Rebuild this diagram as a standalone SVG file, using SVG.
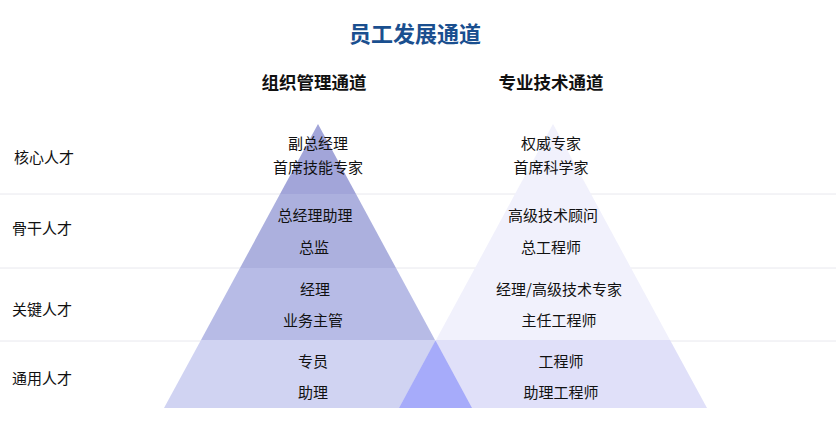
<svg xmlns="http://www.w3.org/2000/svg" width="836" height="422" viewBox="0 0 836 422">
<style>
text{font-family:"Noto Sans CJK SC","Noto Sans",sans-serif;fill:#111;}
.t{font-size:22px;font-weight:bold;fill:#1a4f8f;text-anchor:middle;}
.s{font-size:17.5px;font-weight:bold;text-anchor:middle;}
.b{font-size:15px;text-anchor:middle;dominant-baseline:central;}
.l{font-size:15px;dominant-baseline:central;}
.grid{stroke:#e8e8ee;stroke-width:1;}
</style>
<rect width="836" height="422" fill="#ffffff"/>
<g id="grid" class="grid">
<line x1="0" y1="194" x2="836" y2="194"/>
<line x1="0" y1="268" x2="836" y2="268"/>
<line x1="0" y1="341" x2="836" y2="341"/>
</g>
<text class="t" x="415" y="42">员工发展通道</text>
<text class="s" x="314" y="89">组织管理通道</text>
<text class="s" x="551" y="89">专业技术通道</text>
<g id="levels">
<text class="l" x="14" y="156">核心人才</text>
<text class="l" x="12" y="227">骨干人才</text>
<text class="l" x="12" y="308">关键人才</text>
<text class="l" x="12" y="377">通用人才</text>
</g>
<g id="pyramid-mgmt">
<polygon points="318,124 356,194 280,194" fill="#a2a5d9"/>
<polygon points="280,194 356,194 396,268 240,268" fill="#acb0de"/>
<polygon points="240,268 396,268 435,340 201,340" fill="#b7bbe6"/>
<polygon points="201,340 435,340 472,408 164,408" fill="#d0d3f2"/>
</g>
<g id="pyramid-tech">
<polygon points="553,124 591,194 515,194" fill="#f1f1fc"/>
<polygon points="515,194 591,194 631,268 475,268" fill="#f1f1fc"/>
<polygon points="475,268 631,268 670,340 436,340" fill="#f1f1fc"/>
<polygon points="436,340 670,340 707,408 399,408" fill="#e0e0f9"/>
</g>
<polygon id="overlap" points="435.5,340.5 472,408 399,408" fill="#a6abfa"/>
<g id="mgmt-labels">
<text class="b" x="318" y="142">副总经理</text>
<text class="b" x="318" y="166">首席技能专家</text>
<text class="b" x="315" y="214">总经理助理</text>
<text class="b" x="314" y="246">总监</text>
<text class="b" x="315" y="288">经理</text>
<text class="b" x="313" y="319">业务主管</text>
<text class="b" x="313" y="360">专员</text>
<text class="b" x="313" y="391">助理</text>
</g>
<g id="tech-labels">
<text class="b" x="551" y="142">权威专家</text>
<text class="b" x="551" y="166">首席科学家</text>
<text class="b" x="553" y="214">高级技术顾问</text>
<text class="b" x="551" y="246">总工程师</text>
<text class="b" x="559" y="288">经理/高级技术专家</text>
<text class="b" x="559" y="319">主任工程师</text>
<text class="b" x="561" y="360">工程师</text>
<text class="b" x="561" y="391">助理工程师</text>
</g>
</svg>
